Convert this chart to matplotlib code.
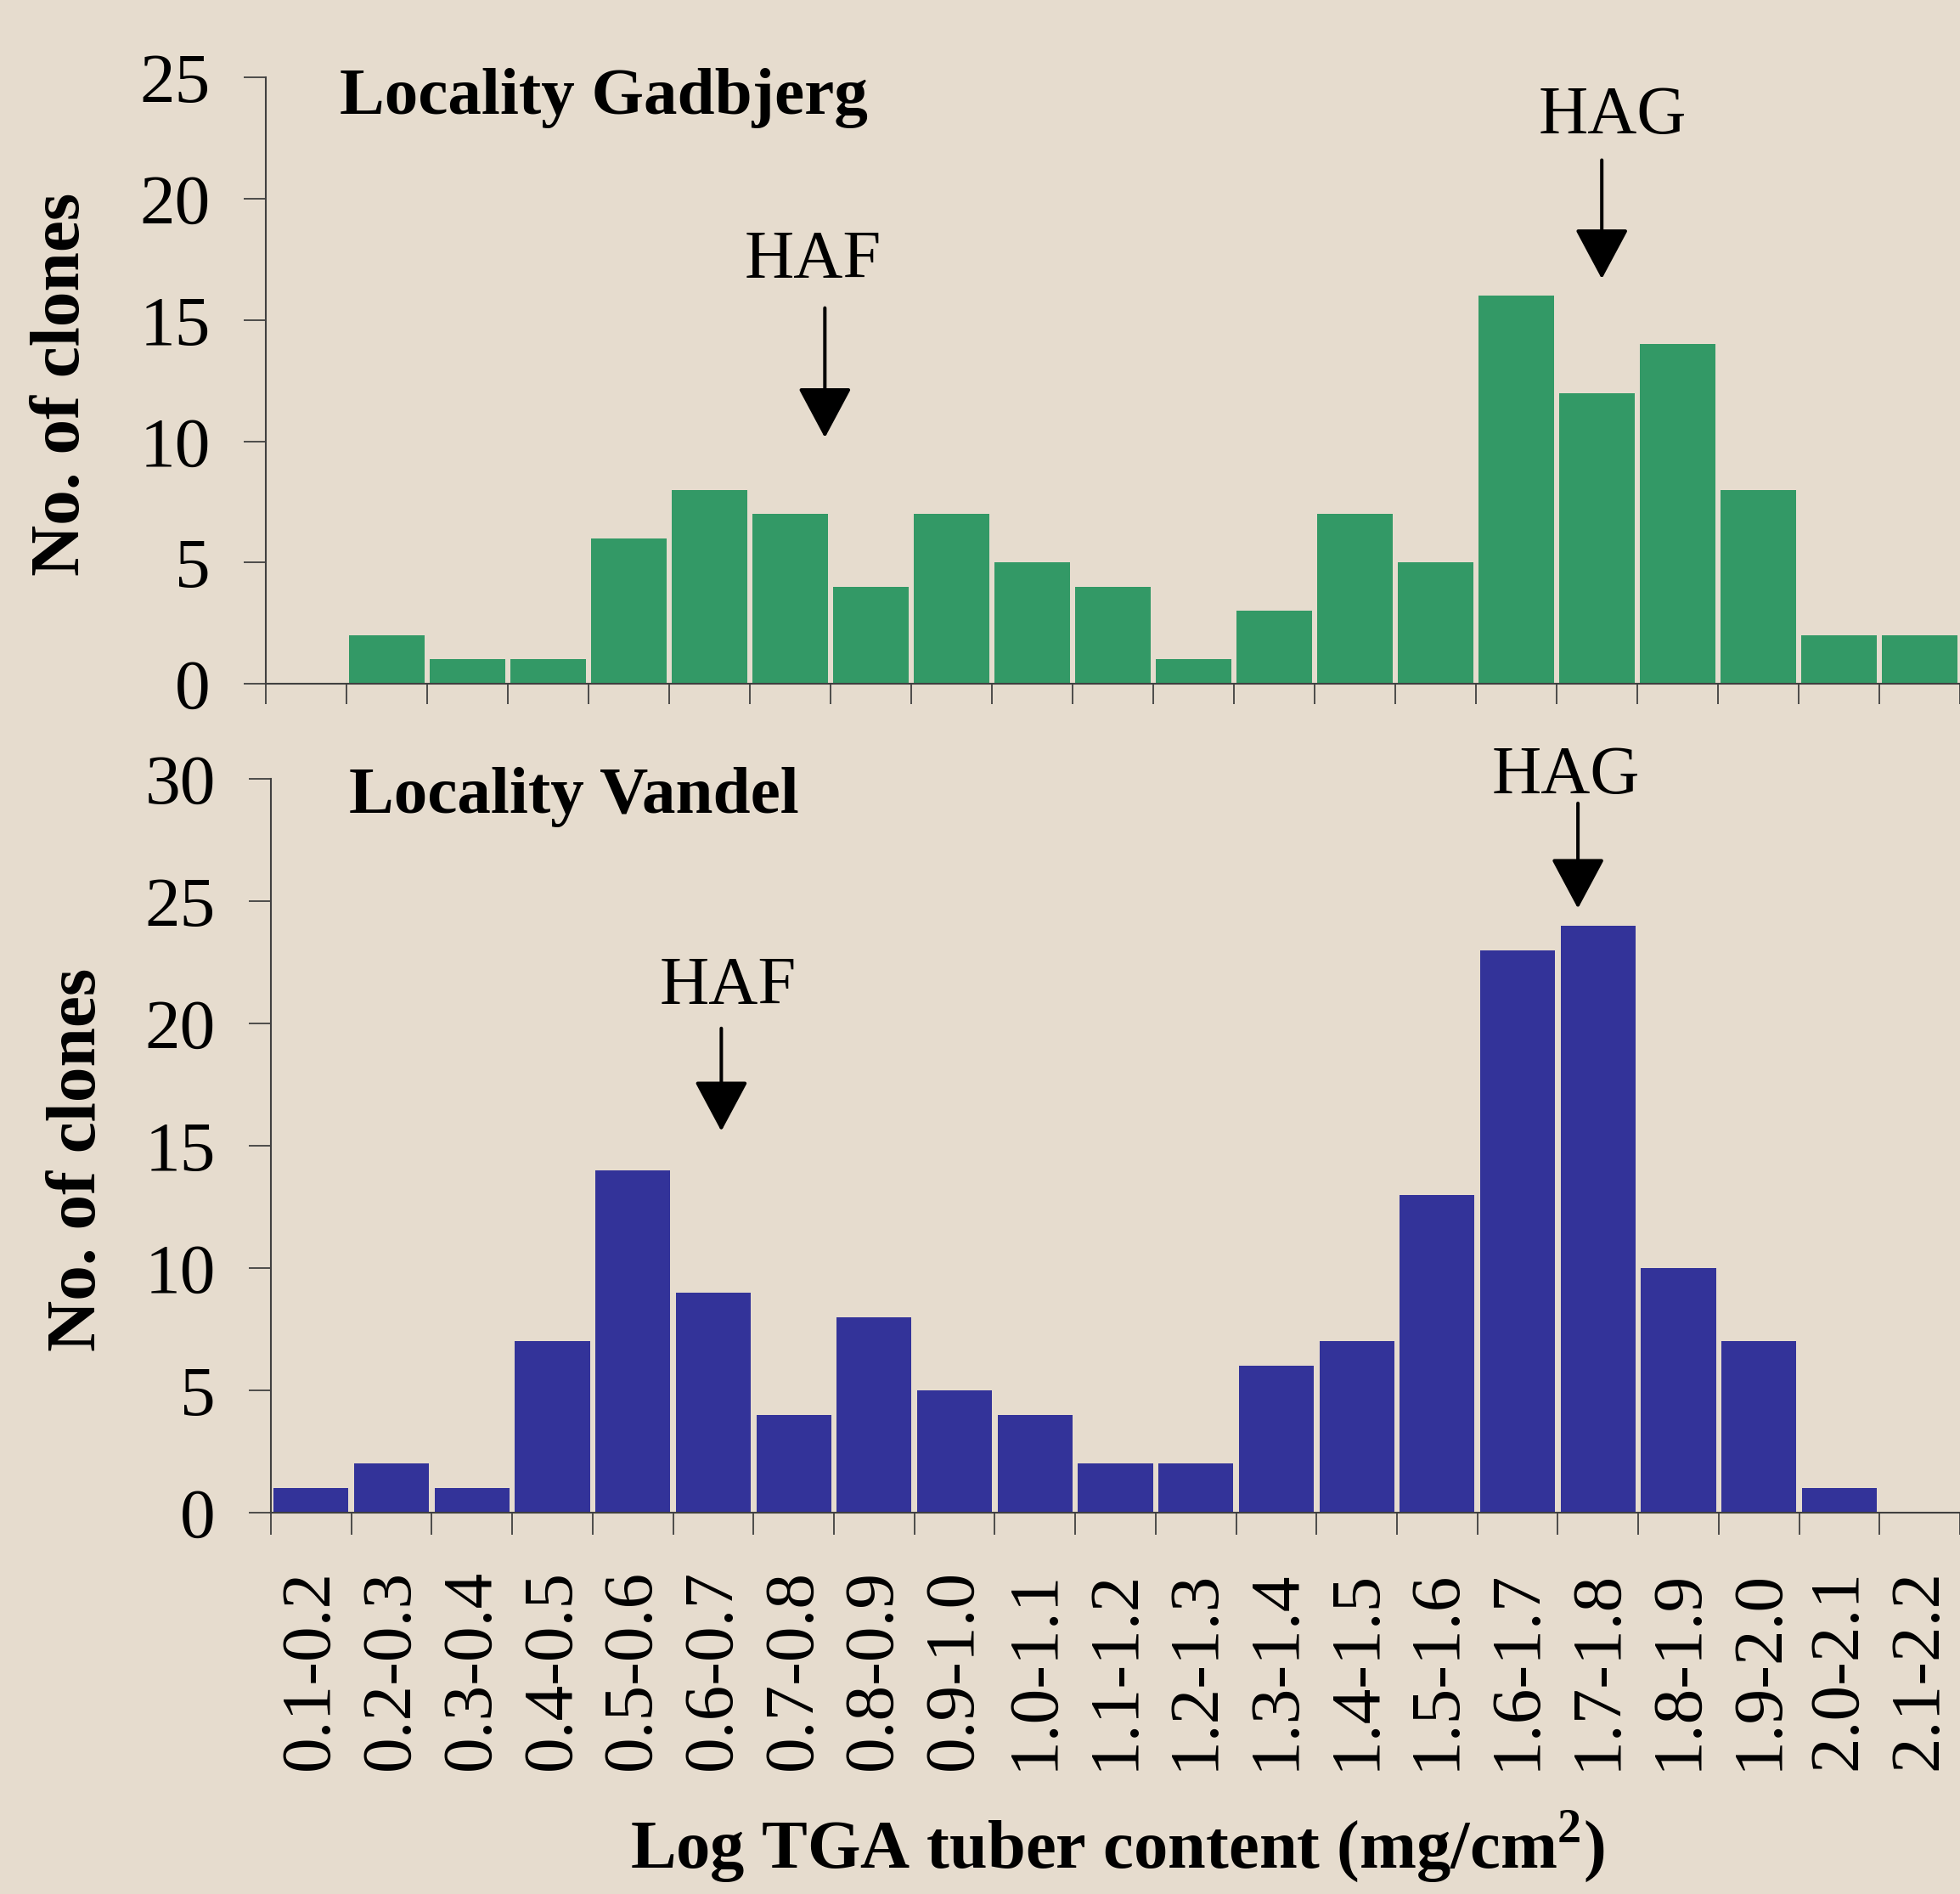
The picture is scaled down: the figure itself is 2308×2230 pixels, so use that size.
import numpy as np
import matplotlib
matplotlib.use('Agg')
import matplotlib.pyplot as plt

# data
bins = ['0.1-0.2', '0.2-0.3', '0.3-0.4', '0.4-0.5', '0.5-0.6', '0.6-0.7', '0.7-0.8',
        '0.8-0.9', '0.9-1.0', '1.0-1.1', '1.1-1.2', '1.2-1.3', '1.3-1.4', '1.4-1.5',
        '1.5-1.6', '1.6-1.7', '1.7-1.8', '1.8-1.9', '1.9-2.0', '2.0-2.1', '2.1-2.2']
gadbjerg = [0, 2, 1, 1, 6, 8, 7, 4, 7, 5, 4, 1, 3, 7, 5, 16, 12, 14, 8, 2, 2]
vandel = [1, 2, 1, 7, 14, 9, 4, 8, 5, 4, 2, 2, 6, 7, 13, 23, 24, 10, 7, 1, 0]

# annotation markers (label, bin position)
gad_marks = [('HAF', 6.43), ('HAG', 16.06)]
van_marks = [('HAF', 5.1), ('HAG', 15.75)]

BG = '#E6DCCE'
GREEN = '#339966'
BLUE = '#333399'
FONT = 'Liberation Serif'

plt.rcParams['font.family'] = FONT
plt.rcParams['font.size'] = 60
plt.rcParams['mathtext.fontset'] = 'custom'
plt.rcParams['mathtext.rm'] = FONT
plt.rcParams['mathtext.bf'] = FONT + ':bold'

fig = plt.figure(figsize=(23.08, 22.30), dpi=100)
fig.patch.set_facecolor(BG)

ax1 = fig.add_axes([0.1356, 0.639, 0.8644, 0.320])
ax2 = fig.add_axes([0.1382, 0.2013, 0.8618, 0.3875])

x = np.arange(len(bins))


def style_axis(ax, ymax, ticklen):
    ax.set_facecolor('none')
    for s in ['top', 'right']:
        ax.spines[s].set_visible(False)
    for s in ['left', 'bottom']:
        ax.spines[s].set_color('#404040')
        ax.spines[s].set_linewidth(1.5)
    ax.set_xlim(-0.5, len(bins) - 0.5)
    ax.set_ylim(0, ymax)
    ax.set_yticks(np.arange(0, ymax + 1, 5))
    ax.tick_params(axis='y', length=19, width=1.3, color='#404040', pad=28, labelsize=60)
    ax.set_xticks(np.arange(len(bins) + 1) - 0.5)
    ax.set_xticklabels([])
    ax.tick_params(axis='x', which='major', length=ticklen, width=1.3, color='#404040')


def draw_arrow(ax, xm, tip, tail):
    ax.annotate('', xy=(xm, tip), xytext=(xm, tail),
                arrowprops=dict(arrowstyle='-|>,head_length=1.87,head_width=1.0',
                                mutation_scale=20, lw=2.9, color='black',
                                shrinkA=0, shrinkB=0))


# top panel
ax1.bar(x, gadbjerg, width=0.93, color=GREEN, edgecolor='none')
style_axis(ax1, 25, 17)
ax1.text(0.42, 23.5, 'Locality Gadbjerg', fontsize=57, fontweight='bold', va='baseline')
for lab, xm in gad_marks:
    if lab == 'HAF':
        tip, tail, ty, tx = 10.15, 15.5, 16.74, 6.28
    else:
        tip, tail, ty, tx = 16.7, 21.6, 22.69, 16.19
    draw_arrow(ax1, xm, tip, tail)
    ax1.text(tx, ty, lab, fontsize=58, ha='center', va='baseline')

# bottom panel
ax2.bar(x, vandel, width=0.93, color=BLUE, edgecolor='none')
style_axis(ax2, 30, 19)
ax2.set_xticks(x, minor=True)
ax2.set_xticklabels(bins, minor=True, rotation=90, fontsize=60)
ax2.tick_params(axis='x', which='minor', length=0, pad=48)
ax2.text(0.47, 28.6, 'Locality Vandel', fontsize=57, fontweight='bold', va='baseline')
for lab, xm in van_marks:
    if lab == 'HAF':
        tip, tail, ty, tx = 15.6, 19.8, 20.8, 5.18
    else:
        tip, tail, ty, tx = 24.7, 29.0, 29.4, 15.6
    draw_arrow(ax2, xm, tip, tail)
    ax2.text(tx, ty, lab, fontsize=58, ha='center', va='baseline')

# axis titles
fig.text(74 / 2308, 1 - 452 / 2230, 'No. of clones', rotation=90, fontsize=60,
         fontweight='bold', ha='center', va='center')
fig.text(93 / 2308, 1 - 1365 / 2230, 'No. of clones', rotation=90, fontsize=60,
         fontweight='bold', ha='center', va='center')
fig.text(1316 / 2308, 1 - 2130 / 2230, r'Log TGA tuber content (mg/cm$^{\mathbf{2}}$)',
         fontsize=58, fontweight='bold', ha='center', va='top')

fig.savefig('out.png', dpi=100, facecolor=BG)
